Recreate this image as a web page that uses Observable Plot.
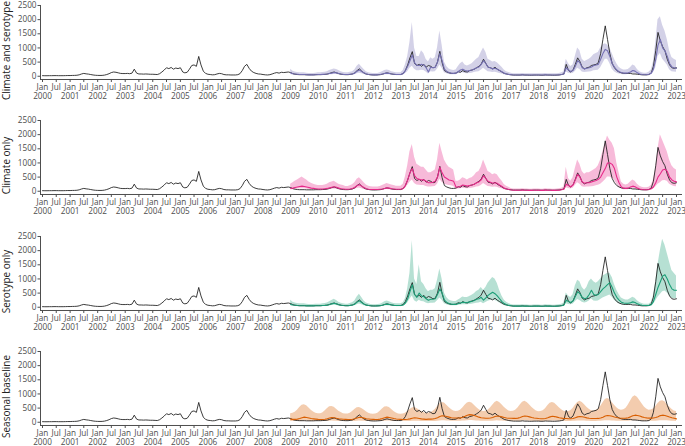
<!DOCTYPE html>
<html><head><meta charset="utf-8">
<script src="https://cdn.jsdelivr.net/npm/d3@7"></script>
<script src="https://cdn.jsdelivr.net/npm/@observablehq/plot@0.6"></script>
<style>
html,body{margin:0;padding:0;background:#fff;overflow:hidden;width:685px;height:446px}
#chart svg{display:block}
</style></head><body><div id="chart"></div>
<script>
const panelLabels = ["Climate and serotype", "Climate only", "Serotype only", "Seasonal baseline"];
const panelColors = ["#7570b3", "#e7298a", "#1b9e77", "#d95f02"];
const tickMonthLabels = ["Jan", "Jul"];
const yTicks = [0, 500, 1000, 1500, 2000, 2500];

// observed monthly cases, Jan 2000 .. Jan 2023
const observed = [
 20,18,18,20,20,22,22,20,20,20,22,25,
 25,28,30,35,50,80,100,85,75,60,45,35,
 30,28,30,40,60,90,130,150,140,120,100,95,
 95,100,90,110,250,110,80,80,75,80,75,70,
 70,65,60,90,150,220,300,270,310,250,290,270,
 300,150,120,140,250,380,400,350,700,400,180,100,
 70,60,50,55,80,100,90,60,50,50,45,45,
 45,55,90,200,350,420,280,180,130,100,80,75,
 60,50,45,55,80,110,130,110,140,130,140,150,
 130,90,70,60,55,55,55,50,50,50,50,55,
 55,55,60,65,75,100,130,150,120,90,70,60,
 55,55,65,80,120,200,260,180,110,75,60,50,
 45,45,50,55,70,100,120,100,80,65,60,60,
 60,100,200,400,650,870,450,380,420,350,420,320,
 380,350,300,320,500,880,480,200,150,120,100,100,
 110,160,140,200,160,150,200,220,250,300,350,430,
 600,450,320,300,260,320,250,200,150,100,80,60,
 50,40,40,40,40,50,40,40,35,35,40,40,
 40,35,35,45,40,40,35,35,40,45,60,80,
 420,200,150,220,420,650,520,320,260,300,320,380,
 400,420,480,800,1300,1780,1300,800,450,300,200,150,
 120,100,100,100,100,80,80,70,60,50,50,50,
 60,120,350,900,1550,1250,1050,900,600,400,300,280,
 300];

// forecasts, Jan 2009 .. Jan 2023
const csMedian = [
 120,90,80,70,60,60,60,55,50,50,50,55,
 60,60,65,70,80,100,110,130,120,100,80,65,
 60,60,70,80,110,180,220,170,120,80,60,55,
 50,50,50,60,80,100,110,100,80,70,60,60,
 60,100,200,350,550,750,480,380,380,420,400,300,
 150,330,300,320,500,800,550,250,170,130,110,100,
 110,170,220,250,200,180,200,220,260,300,330,420,
 550,450,320,300,260,280,250,200,160,110,80,65,
 55,45,45,45,45,50,45,45,45,45,45,45,
 45,45,45,50,45,45,45,45,45,50,60,80,
 300,220,170,200,350,550,480,300,260,280,300,330,
 380,400,420,600,800,950,900,700,450,320,220,160,
 130,110,110,120,150,200,180,120,80,60,55,55,
 70,110,250,600,1100,1300,1000,900,700,450,330,300,
 280];
const csLower = [
 60,45,40,35,30,30,30,28,25,25,25,28,
 30,30,32,35,40,50,55,65,60,50,40,32,
 30,30,35,40,55,90,110,85,60,40,30,28,
 25,25,25,30,40,50,55,50,40,35,30,30,
 30,45,90,160,280,350,250,190,190,210,200,150,
 75,160,150,160,250,400,280,120,85,65,55,50,
 55,85,110,120,100,90,100,110,130,150,160,210,
 280,220,160,150,130,140,120,100,80,55,40,32,
 28,22,22,22,22,25,22,22,22,22,22,22,
 22,22,22,25,22,22,22,22,22,25,30,40,
 150,110,85,100,170,280,240,150,130,140,150,160,
 190,200,210,300,450,600,600,450,250,160,110,80,
 65,55,55,60,75,100,90,60,40,30,28,28,
 35,55,120,300,700,800,600,500,400,230,160,150,
 140];
const csUpper = [
 250,180,150,130,120,120,120,110,100,100,100,110,
 120,120,130,140,160,200,230,260,240,200,160,130,
 120,120,140,160,220,350,420,330,240,160,120,110,
 100,100,100,120,160,200,220,200,160,140,120,120,
 120,200,400,700,1200,1900,1000,700,700,900,800,600,
 500,650,600,650,1000,1600,1100,500,340,260,220,200,
 220,340,440,500,400,360,400,440,520,600,660,840,
 1000,850,600,560,500,520,480,400,320,220,160,130,
 110,90,90,90,90,100,90,90,90,90,90,90,
 90,90,90,100,90,90,90,90,90,100,120,160,
 600,440,340,400,700,1000,900,600,520,560,600,660,
 760,800,840,1000,1100,1150,1100,1000,800,600,440,320,
 260,220,220,240,300,400,360,240,160,120,110,110,
 140,220,500,1200,2000,2100,1800,1600,1300,900,660,600,
 560];

const coMedian = [
 100,110,130,150,170,180,170,150,130,110,100,90,
 80,80,80,90,100,120,140,160,140,110,90,80,
 70,70,80,100,140,200,230,180,130,90,70,60,
 60,60,60,70,80,100,120,110,90,80,70,70,
 70,100,200,400,650,800,550,450,420,400,400,350,
 300,300,320,350,500,850,650,500,450,400,380,350,
 150,150,180,220,200,180,200,220,250,300,330,400,
 550,450,350,320,280,300,280,220,170,110,80,60,
 45,35,35,35,35,40,35,35,30,30,35,35,
 35,30,30,40,35,35,30,30,35,40,50,70,
 250,200,160,220,400,600,500,330,280,300,300,330,
 350,380,420,500,650,800,1000,1000,950,800,500,300,
 150,110,100,110,150,180,160,110,80,60,55,55,
 60,90,150,300,500,620,750,780,700,500,400,350,
 330];
const coLower = [
 50,55,65,75,85,90,85,75,65,55,50,45,
 40,40,40,45,50,60,70,80,70,55,45,40,
 35,35,40,50,70,100,115,90,65,45,35,30,
 30,30,30,35,40,50,60,55,45,40,35,35,
 35,50,100,200,320,400,270,220,210,200,200,170,
 150,150,160,170,250,420,320,250,220,200,190,170,
 75,75,90,110,100,90,100,110,120,150,160,200,
 270,220,170,160,140,150,140,110,85,55,40,30,
 22,18,18,18,18,20,18,18,15,15,18,18,
 18,15,15,20,18,18,15,15,18,20,25,35,
 120,100,80,110,200,300,250,160,140,150,150,160,
 170,190,210,250,320,400,500,500,470,400,250,150,
 75,55,50,55,75,90,80,55,40,30,28,28,
 30,45,75,150,250,300,370,380,350,250,200,170,
 160];
const coUpper = [
 250,300,350,400,450,500,450,400,330,280,250,220,
 200,200,200,220,250,300,330,350,300,250,220,200,
 170,170,190,230,300,420,480,400,300,220,180,160,
 150,150,150,170,200,240,270,250,220,200,180,180,
 180,250,500,900,1400,1650,1200,950,900,850,850,750,
 650,650,700,750,1100,1700,1400,1100,950,850,800,750,
 350,350,400,480,450,400,450,480,550,650,700,850,
 1100,900,700,650,580,620,580,460,360,240,180,140,
 100,80,80,80,80,90,80,80,70,70,80,80,
 80,70,70,90,80,80,70,70,80,90,110,150,
 850,450,350,480,800,1100,950,700,600,650,650,700,
 750,800,900,1100,1400,1700,1950,1800,1700,1500,1000,650,
 330,250,220,250,330,400,350,250,180,140,120,120,
 140,200,400,800,1500,2000,1800,1600,1400,1100,900,800,
 750];

const soMedian = [
 100,80,70,60,55,55,55,50,50,50,50,55,
 55,55,60,65,75,95,120,140,120,90,70,60,
 55,55,65,80,110,180,230,170,110,75,60,50,
 45,45,50,55,70,95,110,95,80,65,60,60,
 60,80,150,300,550,800,450,350,500,400,380,300,
 250,280,280,300,450,650,500,250,170,130,110,100,
 100,130,150,180,170,170,190,210,240,280,300,350,
 250,330,420,480,530,480,400,300,200,130,90,65,
 50,40,40,40,40,45,40,40,35,35,40,40,
 40,35,35,45,40,40,35,35,40,45,55,75,
 250,200,170,220,380,550,480,350,300,330,450,600,
 450,420,450,550,650,720,800,870,700,500,350,250,
 180,150,140,140,160,190,170,120,90,70,60,60,
 60,90,200,450,700,900,1100,1150,1000,800,650,600,
 600];
const soLower = [
 50,40,35,30,28,28,28,25,25,25,25,28,
 28,28,30,32,38,48,60,70,60,45,35,30,
 28,28,32,40,55,90,115,85,55,38,30,25,
 22,22,25,28,35,48,55,48,40,32,30,30,
 30,40,75,150,280,400,230,180,250,200,190,150,
 125,140,140,150,230,330,250,125,85,65,55,50,
 50,65,75,90,85,85,95,105,120,140,150,175,
 125,165,210,240,260,240,200,150,100,65,45,32,
 25,20,20,20,20,22,20,20,18,18,20,20,
 20,18,18,22,20,20,18,18,20,22,28,38,
 125,100,85,110,190,270,240,175,150,165,225,300,
 225,210,225,275,325,360,400,430,350,250,175,125,
 90,75,70,70,80,95,85,60,45,35,30,30,
 30,45,100,220,350,450,550,570,500,400,320,300,
 300];
const soUpper = [
 250,180,150,130,120,120,120,110,100,100,100,110,
 110,110,120,130,150,190,240,280,240,180,140,120,
 110,110,130,160,220,360,460,340,220,150,120,100,
 90,90,100,110,140,190,220,190,160,130,120,120,
 120,160,300,650,1200,2350,1000,800,1500,900,800,650,
 550,600,600,650,950,1350,1000,500,340,260,220,200,
 200,260,300,360,340,340,380,420,480,560,600,700,
 600,700,850,950,1050,1000,850,600,400,260,180,130,
 100,80,80,80,80,90,80,80,70,70,80,80,
 80,70,70,90,80,80,70,70,80,90,110,150,
 500,400,340,440,750,950,900,700,600,700,900,1000,
 900,850,900,1000,1100,1150,1200,1200,1050,800,600,450,
 330,280,260,260,300,350,320,230,170,130,110,110,
 110,170,400,900,1500,2000,2400,2200,1900,1600,1300,1200,
 1100];

const sbMedian = [
 110,100,100,110,130,160,180,170,150,130,120,110,
 100,95,95,105,125,150,170,160,140,125,115,105,
 100,95,95,105,125,150,175,165,145,125,115,105,
 100,95,95,110,130,160,180,170,150,130,115,105,
 100,95,95,105,120,140,160,150,135,120,110,100,
 110,110,115,130,160,200,230,220,200,180,160,150,
 150,150,155,175,210,250,270,260,240,210,180,160,
 150,140,140,150,170,200,220,210,190,170,150,140,
 140,135,135,145,170,200,220,210,190,165,150,140,
 130,125,125,135,160,190,210,200,180,160,145,135,
 130,125,125,135,160,190,205,195,175,155,140,130,
 130,130,135,150,180,220,240,230,210,185,165,150,
 140,140,145,160,190,230,250,240,220,190,170,155,
 145,145,150,165,195,235,250,240,215,185,160,140,
 120];
const sbLower = [
 25,22,22,25,30,38,42,40,35,30,27,25,
 23,22,22,24,28,35,40,37,32,28,26,24,
 23,22,22,24,28,35,40,38,33,28,26,24,
 23,22,22,25,30,37,42,40,35,30,26,24,
 23,22,22,24,27,32,37,35,31,27,25,23,
 25,25,26,30,37,46,53,50,46,41,37,34,
 34,34,35,40,48,57,62,60,55,48,41,37,
 34,32,32,34,39,46,50,48,44,39,34,32,
 32,31,31,33,39,46,50,48,44,38,34,32,
 30,29,29,31,37,44,48,46,41,37,33,31,
 30,29,29,31,37,44,47,45,40,36,32,30,
 30,30,31,34,41,50,55,53,48,42,38,34,
 32,32,33,37,44,53,57,55,50,44,39,36,
 33,33,34,38,45,54,57,55,49,42,37,32,
 28];
const sbUpper = [
 300,320,350,420,520,600,620,580,500,420,360,320,
 300,300,330,400,480,550,560,530,460,390,340,300,
 290,290,320,380,450,510,520,490,430,370,320,290,
 280,290,320,390,470,540,550,520,450,380,330,290,
 280,290,320,380,450,500,520,490,430,380,340,310,
 320,340,380,450,550,650,700,680,600,520,450,400,
 380,390,420,500,600,680,710,680,600,520,450,400,
 380,390,420,500,600,700,740,700,620,530,460,400,
 380,390,420,500,610,710,740,700,620,530,460,400,
 370,380,410,480,580,670,700,670,590,510,440,390,
 370,380,410,490,600,700,740,700,620,530,460,410,
 400,420,460,560,680,800,840,800,700,600,510,450,
 420,440,490,600,740,880,940,880,770,650,540,470,
 420,430,470,560,660,740,760,720,630,540,460,400,
 380];

const obsData = observed.map((v, i) => ({date: new Date(Date.UTC(2000, i, 1)), value: v}));
function fcData(med, lo, hi) {
  return med.map((v, i) => ({date: new Date(Date.UTC(2009, i, 1)), med: v, lo: lo[i], hi: hi[i]}));
}
const models = [
  fcData(csMedian, csLower, csUpper),
  fcData(coMedian, coLower, coUpper),
  fcData(soMedian, soLower, soUpper),
  fcData(sbMedian, sbLower, sbUpper)
];
const d2000 = new Date(Date.UTC(2000, 0, 1));
const d2023 = new Date(Date.UTC(2023, 0, 1));
const xTicks = d3.utcMonth.every(6).range(d2000, new Date(Date.UTC(2023, 1, 1)));
const fmt = d => d.getUTCMonth() === 0 ? `${tickMonthLabels[0]}\n${d.getUTCFullYear()}` : tickMonthLabels[1];

const chart = document.getElementById("chart");
models.forEach((fc, k) => {
  const color = panelColors[k];
  const p = Plot.plot({
    width: 685, height: 115.3,
    marginLeft: 40, marginRight: 4, marginTop: 5, marginBottom: 36.3,
    style: {fontFamily: "'Open Sans', sans-serif", fontSize: "8.2px", color: "#4d4d4d", background: "#fff"},
    x: {type: "utc", domain: [d2000, d2023], range: [42, 676], ticks: xTicks, tickFormat: fmt,
        tickSize: 3, tickPadding: 2, label: null, line: true},
    y: {domain: [-115, 2500], ticks: yTicks, tickFormat: d3.format("d"), tickSize: 2.5, tickPadding: 1.5,
        label: null, line: true},
    marks: [
      Plot.areaY(fc, {x: "date", y1: "lo", y2: "hi", fill: color, fillOpacity: 0.32}),
      Plot.lineY(obsData, {x: "date", y: "value", stroke: "#1a1a1a", strokeWidth: 0.85}),
      Plot.lineY(fc, {x: "date", y: "med", stroke: color, strokeWidth: 1.1}),
      Plot.text([panelLabels[k]], {frameAnchor: "left", text: d => d, rotate: -90, dx: -34, dy: 8,
        textAnchor: "middle", fill: "#222", fontSize: 10})
    ]
  });
  chart.appendChild(p);
});
</script></body></html>
